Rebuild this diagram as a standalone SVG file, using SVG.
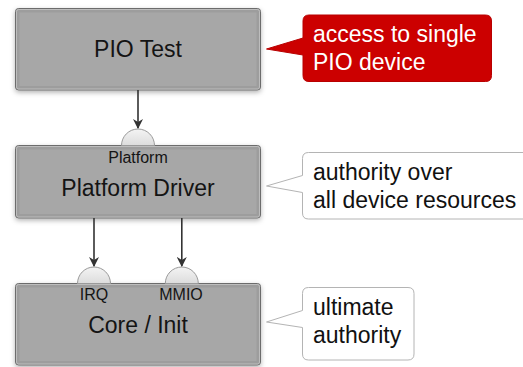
<svg xmlns="http://www.w3.org/2000/svg" width="523" height="367" viewBox="0 0 523 367">
  <defs>
    <filter id="shadow" x="-10%" y="-10%" width="120%" height="130%">
      <feDropShadow dx="0" dy="2" stdDeviation="2.5" flood-color="#000" flood-opacity="0.3"/>
    </filter>
    <linearGradient id="portGrad" x1="0" y1="0" x2="0" y2="1">
      <stop offset="0" stop-color="#f4f4f4"/>
      <stop offset="1" stop-color="#dcdcdc"/>
    </linearGradient>
    <marker id="arrow" viewBox="0 0 10 10" refX="9" refY="5" markerWidth="10" markerHeight="10" markerUnits="userSpaceOnUse" orient="auto">
      <path d="M0,0 L10,5 L0,10 L3,5 Z" fill="#333"/>
    </marker>
  </defs>
  <style>
    .box { fill: #a7a7a7; stroke: #6c6c6c; stroke-width: 1; }
    .inner { fill: none; stroke: #bdbdbd; stroke-width: 1; }
    .glow { fill: none; stroke: #9d9d9d; stroke-width: 3; }
    .port { fill: url(#portGrad); stroke: #9a9a9a; stroke-width: 1; }
    .main { font-family: "Liberation Sans", Arial, sans-serif; font-size: 23px; fill: #141414; text-anchor: middle; }
    .plabel { font-family: "Liberation Sans", Arial, sans-serif; font-size: 16px; fill: #141414; text-anchor: middle; }
    .note { font-family: "Liberation Sans", Arial, sans-serif; font-size: 23px; fill: #111; }
    .red { fill: #cc0000; stroke: #b80000; stroke-width: 1; }
    .white { fill: #ffffff; stroke: #b4b4b4; stroke-width: 1; }
    .conn { stroke: #333; stroke-width: 1.6; fill: none; marker-end: url(#arrow); }
  </style>

  <g id="pio-test">
    <rect class="box" x="15.5" y="8.5" width="245" height="81.5" rx="3" filter="url(#shadow)"/>
    <rect class="glow" x="18" y="11" width="240" height="76.5" rx="2"/>
    <rect class="inner" x="16.5" y="9.5" width="243" height="79.5" rx="2"/>
    <text class="main" x="138" y="57">PIO Test</text>
  </g>

  <g id="platform-driver">
    <rect class="box" x="15.5" y="145.5" width="245" height="72.5" rx="3" filter="url(#shadow)"/>
    <rect class="glow" x="18" y="148" width="240" height="67.5" rx="2"/>
    <rect class="inner" x="16.5" y="146.5" width="243" height="70.5" rx="2"/>
    <path class="port" d="M121.5,145.5 A16.5,16.5 0 0 1 154.5,145.5 Z"/>
    <text class="plabel" x="138" y="163">Platform</text>
    <text class="main" x="138" y="196">Platform Driver</text>
  </g>

  <g id="core-init">
    <rect class="box" x="15.5" y="283.5" width="245" height="81.5" rx="3" filter="url(#shadow)"/>
    <rect class="glow" x="18" y="286" width="240" height="76.5" rx="2"/>
    <rect class="inner" x="16.5" y="284.5" width="243" height="79.5" rx="2"/>
    <path class="port" d="M77.5,283.5 A16.5,16.5 0 0 1 110.5,283.5 Z"/>
    <path class="port" d="M165.3,283.5 A16.5,16.5 0 0 1 198.3,283.5 Z"/>
    <text class="plabel" x="94" y="300">IRQ</text>
    <text class="plabel" x="181" y="300">MMIO</text>
    <text class="main" x="138" y="333">Core / Init</text>
  </g>

  <g id="connectors">
    <line class="conn" x1="138" y1="90" x2="138" y2="128"/>
    <line class="conn" x1="94" y1="218" x2="94" y2="266"/>
    <line class="conn" x1="181.8" y1="218" x2="181.8" y2="266"/>
  </g>

  <g id="note-pio">
    <path class="red" d="M309,15 H485.5 Q491.5,15 491.5,21 V75.5 Q491.5,81.5 485.5,81.5 H309 Q303,81.5 303,75.5 V55 L266.5,49 L303,38 V21 Q303,15 309,15 Z"/>
    <text class="note" x="313" y="42" style="fill:#fff">access to single</text>
    <text class="note" x="313" y="70" style="fill:#fff">PIO device</text>
  </g>

  <g id="note-platform">
    <path class="white" d="M308.5,152.5 H530 V219 H308.5 Q302.5,219 302.5,213 V192.5 L266.5,186 L302.5,175.5 V158.5 Q302.5,152.5 308.5,152.5 Z"/>
    <text class="note" x="313" y="179.5">authority over</text>
    <text class="note" x="313" y="207.5">all device resources</text>
  </g>

  <g id="note-core">
    <path class="white" d="M308.5,287.5 H408 Q414,287.5 414,293.5 V354 Q414,360 408,360 H308.5 Q302.5,360 302.5,354 V327.5 L266.5,322 L302.5,310.5 V293.5 Q302.5,287.5 308.5,287.5 Z"/>
    <text class="note" x="313" y="315">ultimate</text>
    <text class="note" x="313" y="343">authority</text>
  </g>
</svg>
